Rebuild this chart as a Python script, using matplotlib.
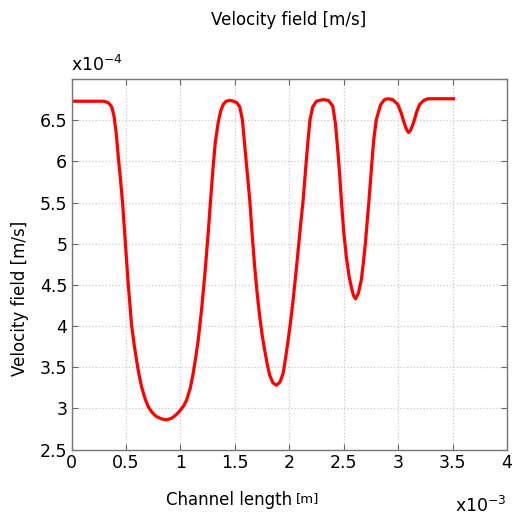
import matplotlib.pyplot as plt
import numpy as np

# channel position (x 1e-3 m) and velocity (x 1e-4 m/s)
pos = [0.0, 0.15, 0.30, 0.34, 0.37, 0.39, 0.41, 0.43, 0.45, 0.47, 0.495, 0.521,
       0.552, 0.575, 0.598, 0.62, 0.644, 0.675, 0.705, 0.74, 0.78, 0.83, 0.873,
       0.92, 0.96, 0.995, 1.03, 1.057, 1.09, 1.117, 1.14, 1.163, 1.194, 1.225,
       1.255, 1.277, 1.30, 1.32, 1.347, 1.37, 1.393, 1.42, 1.454, 1.49, 1.52,
       1.546, 1.57, 1.592, 1.615, 1.638, 1.66, 1.683, 1.705, 1.729, 1.75, 1.775,
       1.80, 1.821, 1.85, 1.883, 1.915, 1.943, 1.965, 1.989, 2.012, 2.035, 2.058,
       2.081, 2.105, 2.127, 2.15, 2.17, 2.19, 2.215, 2.25, 2.31, 2.36, 2.40,
       2.425, 2.448, 2.465, 2.479, 2.50, 2.525, 2.55, 2.571, 2.59, 2.61, 2.635,
       2.662, 2.68, 2.699, 2.716, 2.732, 2.754, 2.775, 2.80, 2.84, 2.875, 2.906,
       2.95, 2.998, 3.03, 3.06, 3.08, 3.096, 3.115, 3.142, 3.17, 3.197, 3.235,
       3.273, 3.35, 3.43, 3.509]
vel = [6.73, 6.73, 6.73, 6.71, 6.66, 6.55, 6.35, 6.05, 5.78, 5.48, 5.00, 4.51,
       4.01, 3.78, 3.58, 3.41, 3.26, 3.12, 3.02, 2.95, 2.90, 2.87, 2.86,
       2.88, 2.92, 2.97, 3.03, 3.10, 3.24, 3.42, 3.61, 3.82, 4.19, 4.63,
       5.12, 5.52, 5.92, 6.22, 6.47, 6.61, 6.69, 6.73, 6.74, 6.73, 6.71,
       6.66, 6.50, 6.18, 5.85, 5.52, 5.10, 4.71, 4.40, 4.11, 3.90, 3.70,
       3.52, 3.40, 3.31, 3.28, 3.32, 3.42, 3.60, 3.82, 4.05, 4.31, 4.60,
       4.91, 5.24, 5.52, 5.90, 6.22, 6.50, 6.66, 6.73, 6.75, 6.74, 6.67,
       6.45, 6.10, 5.80, 5.52, 5.15, 4.83, 4.60, 4.47, 4.37, 4.33, 4.40,
       4.56, 4.76, 5.00, 5.27, 5.52, 5.90, 6.25, 6.51, 6.69, 6.75, 6.76,
       6.75, 6.69, 6.58, 6.45, 6.38, 6.35, 6.38, 6.47, 6.60, 6.69, 6.74,
       6.76, 6.76, 6.76, 6.76]

xticks = [0, 0.5, 1, 1.5, 2, 2.5, 3, 3.5, 4]
yticks = [2.5, 3, 3.5, 4, 4.5, 5, 5.5, 6, 6.5, 7]

W, H = 512, 522
fig = plt.figure(figsize=(W / 100, H / 100), dpi=100)
ax = fig.add_axes([71.5 / W, 1 - 449.5 / H, 435.5 / W, 370.5 / H])

ax.plot(pos, vel, color='#ff0000', lw=2.3, solid_joinstyle='round')

ax.set_xlim(0, 4)
ax.set_ylim(2.5, 7)
ax.set_xticks(xticks)
ax.set_yticks(yticks)
ax.set_xticklabels(['0', '0.5', '1', '1.5', '2', '2.5', '3', '3.5', '4'])
ax.set_yticklabels(['2.5', '3', '3.5', '4', '4.5', '5', '5.5', '6', '6.5', ''])
ax.tick_params(direction='in', top=True, right=True, length=4, width=0.8,
               color='#666666', labelsize=12.5, pad=3)
ax.grid(True, ls=':', color='#c8c8c8', lw=0.9)
for s in ax.spines.values():
    s.set_color('#777777')
    s.set_linewidth(1.0)

def px(x, y):
    return x / W, 1 - y / H

fig.text(*px(289, 20), 'Velocity field [m/s]', ha='center', va='center', fontsize=12)
fig.text(*px(71, 65), r'x10$^{\mathregular{-4}}$', ha='left', va='center', fontsize=12.5)
fig.text(*px(455, 506), r'x10$^{\mathregular{-3}}$', ha='left', va='center', fontsize=12.5)
fig.text(*px(292, 500), 'Channel length', ha='right', va='center', fontsize=12)
fig.text(*px(296, 499), '[m]', ha='left', va='center', fontsize=9.5)
fig.text(*px(20, 298), 'Velocity field [m/s]', ha='center', va='center',
         rotation=90, fontsize=12)

fig.savefig('out.png', dpi=100)
